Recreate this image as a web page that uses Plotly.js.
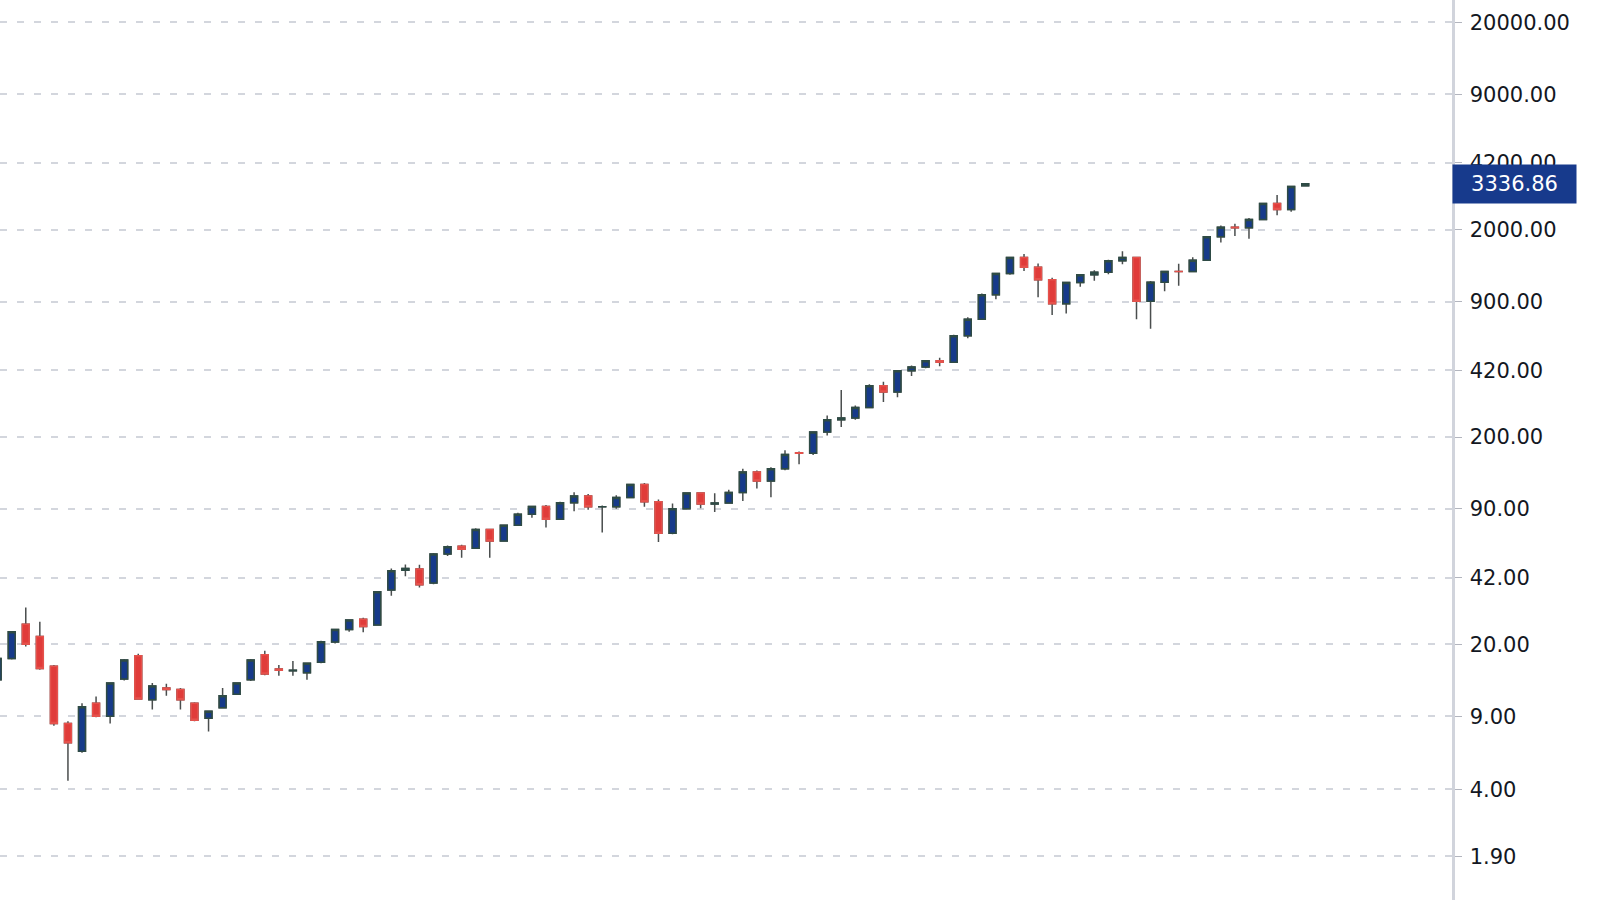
<!DOCTYPE html>
<html>
<head>
<meta charset="utf-8">
<script src="https://cdn.plot.ly/plotly-3.0.1.min.js"></script>
<style>
  html, body { margin: 0; padding: 0; background: #ffffff; }
  #chart { width: 1600px; height: 900px; }
</style>
</head>
<body>
<div id="chart"></div>
<script>
// Yearly candles
const years = [
  1927, 1928, 1929, 1930, 1931, 1932, 1933, 1934, 1935, 1936,
  1937, 1938, 1939, 1940, 1941, 1942, 1943, 1944, 1945, 1946,
  1947, 1948, 1949, 1950, 1951, 1952, 1953, 1954, 1955, 1956,
  1957, 1958, 1959, 1960, 1961, 1962, 1963, 1964, 1965, 1966,
  1967, 1968, 1969, 1970, 1971, 1972, 1973, 1974, 1975, 1976,
  1977, 1978, 1979, 1980, 1981, 1982, 1983, 1984, 1985, 1986,
  1987, 1988, 1989, 1990, 1991, 1992, 1993, 1994, 1995, 1996,
  1997, 1998, 1999, 2000, 2001, 2002, 2003, 2004, 2005, 2006,
  2007, 2008, 2009, 2010, 2011, 2012, 2013, 2014, 2015, 2016,
  2017, 2018, 2019, 2020
];
const opens = [
  13.5, 17.1, 25.0, 21.8, 15.7, 8.3, 6.1, 10.4, 9.0, 13.6,
  17.6, 10.8, 12.3, 12.1, 10.4, 8.8, 9.9, 11.5, 13.5, 17.8,
  15.2, 14.9, 14.6, 16.4, 20.5, 23.6, 26.4, 24.8, 36.6, 45.6,
  46.2, 39.5, 54.6, 59.5, 58.1, 71.6, 63.1, 75.0, 84.8, 92.4,
  80.3, 96.5, 103.9, 92.1, 92.2, 102.1, 118.1, 97.6, 68.6, 90.2,
  107.5, 95.1, 96.1, 107.9, 135.8, 122.6, 140.6, 168.0, 167.2, 211.3,
  242.2, 247.1, 277.7, 353.4, 330.2, 417.1, 435.7, 466.5, 459.3, 615.9,
  740.7, 970.4, 1229.2, 1469.3, 1320.3, 1148.1, 879.8, 1111.9, 1211.9, 1248.3,
  1418.3, 1468.4, 903.3, 1115.1, 1257.7, 1258.9, 1426.2, 1848.4, 2058.9, 2043.9,
  2238.8, 2673.6, 2506.9, 3257.0
];
const highs = [
  17.5, 23.2, 30.1, 25.7, 15.9, 8.5, 10.4, 11.2, 13.1, 17.0,
  18.0, 13.0, 12.9, 12.3, 10.5, 9.6, 12.3, 13.1, 17.0, 18.6,
  15.9, 16.6, 16.3, 20.8, 23.8, 26.4, 26.9, 36.0, 46.4, 48.6,
  48.4, 55.2, 60.0, 60.5, 72.6, 72.0, 75.0, 86.3, 92.6, 94.1,
  97.6, 108.4, 106.2, 93.5, 104.8, 119.1, 120.2, 99.8, 95.6, 107.8,
  107.8, 107.0, 111.3, 140.5, 138.1, 143.0, 172.7, 170.4, 212.0, 254.0,
  336.8, 283.7, 359.8, 369.8, 418.3, 442.7, 470.9, 482.9, 622.9, 757.0,
  983.8, 1241.8, 1469.3, 1527.5, 1373.7, 1172.5, 1112.6, 1217.9, 1275.8, 1431.8,
  1576.1, 1471.8, 1130.4, 1262.6, 1370.6, 1474.5, 1849.4, 2093.6, 2134.7, 2277.5,
  2695.0, 2940.9, 3247.9, 3337.8
];
const lows = [
  13.2, 16.9, 19.5, 15.1, 8.1, 4.4, 6.0, 8.9, 8.3, 13.4,
  10.8, 9.7, 11.3, 9.7, 8.5, 7.6, 9.8, 11.4, 13.3, 14.2,
  14.1, 14.1, 13.5, 16.2, 20.2, 23.0, 22.9, 24.6, 34.3, 42.6,
  37.6, 39.0, 53.3, 52.3, 57.6, 52.3, 62.7, 74.8, 81.6, 73.2,
  80.0, 87.7, 89.2, 69.3, 90.2, 101.7, 92.2, 62.3, 68.0, 89.9,
  90.7, 86.9, 96.1, 98.2, 112.8, 102.4, 138.3, 147.8, 163.7, 203.5,
  223.9, 242.6, 275.3, 295.5, 311.5, 394.5, 429.1, 438.9, 459.1, 598.5,
  737.0, 923.3, 1212.2, 1264.7, 944.8, 776.8, 788.9, 1063.2, 1136.2, 1219.3,
  1364.0, 741.0, 666.8, 1010.9, 1074.8, 1258.9, 1426.2, 1737.9, 1867.0, 1810.1,
  2238.8, 2346.6, 2444.0, 3240.0
];
const closes = [
  17.1, 23.0, 20.0, 15.3, 8.3, 6.7, 10.0, 9.0, 13.0, 16.8,
  10.9, 12.6, 12.1, 10.8, 8.6, 9.5, 11.3, 13.0, 16.8, 14.4,
  15.0, 15.0, 16.2, 20.6, 23.6, 26.2, 24.4, 35.9, 45.3, 46.4,
  38.8, 54.6, 59.2, 57.5, 71.6, 63.1, 75.0, 84.8, 92.4, 80.3,
  96.5, 103.9, 92.1, 92.2, 102.1, 118.1, 97.6, 68.6, 90.2, 107.5,
  95.1, 96.1, 107.9, 135.8, 122.6, 140.6, 164.9, 167.2, 211.3, 242.2,
  247.1, 277.7, 353.4, 330.2, 417.1, 435.7, 466.5, 459.3, 615.9, 740.7,
  970.4, 1229.2, 1469.3, 1320.3, 1148.1, 879.8, 1111.9, 1211.9, 1248.3, 1418.3,
  1468.4, 903.3, 1115.1, 1257.6, 1257.6, 1426.2, 1848.4, 2058.9, 2043.9, 2238.8,
  2673.6, 2506.9, 3230.8, 3336.86
];
// Price axis ticks
const tickVals = [1.9, 4, 9, 20, 42, 90, 200, 420, 900, 2000, 4200, 9000, 20000];
const tickText = tickVals.map(v => v.toFixed(2));

const UP_FILL = '#163a8a', UP_LINE = '#2e4b45';
const DN_FILL = '#e03c3a', DN_LINE = '#e5524c';
const WICK = '#4a4e4e';

const bodyHigh = opens.map((o, i) => Math.max(o, closes[i]));
const bodyLow = opens.map((o, i) => Math.min(o, closes[i]));

const wickTrace = {
  type: 'candlestick',
  x: years, open: opens, high: highs, low: lows, close: closes,
  increasing: { line: { color: WICK, width: 1.5 }, fillcolor: UP_FILL },
  decreasing: { line: { color: WICK, width: 1.5 }, fillcolor: DN_FILL },
  whiskerwidth: 0,
  hoverinfo: 'skip',
  showlegend: false
};
const bodyTrace = {
  type: 'candlestick',
  x: years, open: opens, high: bodyHigh, low: bodyLow, close: closes,
  increasing: { line: { color: UP_LINE, width: 1.5 }, fillcolor: UP_FILL },
  decreasing: { line: { color: DN_LINE, width: 1.5 }, fillcolor: DN_FILL },
  whiskerwidth: 0,
  hoverinfo: 'skip',
  showlegend: false
};

const lastClose = closes[closes.length - 1];

const layout = {
  width: 1600, height: 900,
  margin: { l: 0, r: 148, t: 0, b: 0, autoexpand: false },
  paper_bgcolor: '#ffffff', plot_bgcolor: '#ffffff',
  showlegend: false,
  xaxis: {
    range: [1927.167, 2030.44],
    visible: false,
    showgrid: false, zeroline: false,
    rangeslider: { visible: false },
    fixedrange: true
  },
  yaxis: {
    type: 'log',
    side: 'right',
    range: [0.0677, 4.4093],
    tickvals: tickVals,
    ticktext: tickText,
    ticks: 'outside', ticklen: 7, tickwidth: 1, tickcolor: '#b2b5be',
    ticklabelstandoff: 4,
    tickfont: { family: 'DejaVu Sans', size: 21, color: '#131722' },
    showgrid: true, gridcolor: '#d3d6dd', gridwidth: 2, griddash: '7px,10px',
    showline: true, linecolor: '#d1d4dc', linewidth: 2.5,
    zeroline: false,
    fixedrange: true
  },
  annotations: [{
    xref: 'paper', yref: 'y',
    x: 1, y: Math.log10(lastClose),
    xanchor: 'left', yanchor: 'middle',
    text: lastClose.toFixed(2),
    showarrow: false,
    bgcolor: '#173a8c',
    borderpad: 2,
    width: 119, height: 34,
    align: 'center', valign: 'middle',
    font: { family: 'DejaVu Sans', size: 21, color: '#ffffff' }
  }]
};

Plotly.newPlot('chart', [wickTrace, bodyTrace], layout, { displayModeBar: false, staticPlot: true });
</script>
</body>
</html>
